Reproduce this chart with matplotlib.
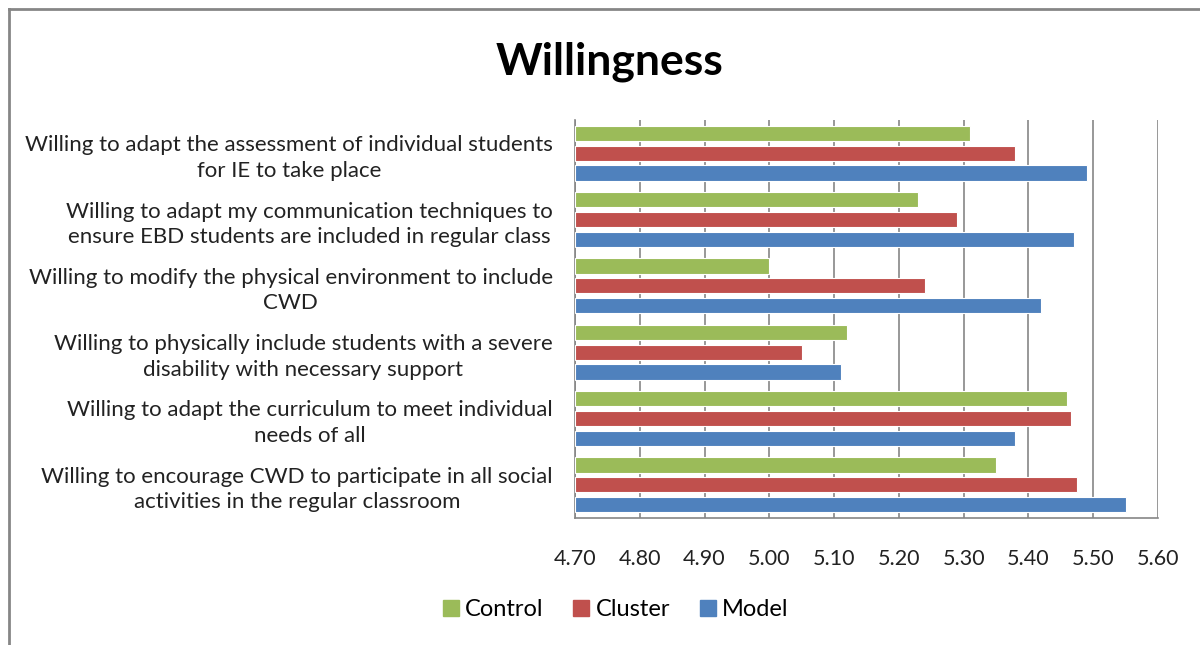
import matplotlib.pyplot as plt
import numpy as np
from matplotlib.lines import Line2D

plt.rcParams['font.family'] = ['Lato', 'DejaVu Sans']

categories = [
    'Willing to adapt the assessment of individual students\nfor IE to take place',
    'Willing to adapt my communication techniques to\nensure EBD students are included in regular class',
    'Willing to modify the physical environment to include\nCWD',
    'Willing to physically include students with a severe\ndisability with necessary support',
    'Willing to adapt the curriculum to meet individual\nneeds of all',
    'Willing to encourage CWD to participate in all social\nactivities in the regular classroom',
]
control = [5.31, 5.23, 5.00, 5.12, 5.46, 5.35]
cluster = [5.38, 5.29, 5.24, 5.05, 5.465, 5.475]
model = [5.49, 5.47, 5.42, 5.11, 5.38, 5.55]
x_ticks = [4.70, 4.80, 4.90, 5.00, 5.10, 5.20, 5.30, 5.40, 5.50, 5.60]

green = '#9BBB59'
red = '#C0504D'
blue = '#4F81BD'
grid_col = '#868686'

fig = plt.figure(figsize=(12, 6.45), dpi=100)
ax = fig.add_axes([575 / 1200, 1 - 518 / 645, (1158 - 575) / 1200, (518 - 120) / 645])

y = np.arange(len(categories))[::-1].astype(float)
h = 0.23
base = 4.70
ax.barh(y + 0.3, np.array(control) - base, left=base, height=h, color=green,
        edgecolor='white', linewidth=0.8, zorder=3, label='Control')
ax.barh(y, np.array(cluster) - base, left=base, height=h, color=red,
        edgecolor='white', linewidth=0.8, zorder=3, label='Cluster')
ax.barh(y - 0.3, np.array(model) - base, left=base, height=h, color=blue,
        edgecolor='white', linewidth=0.8, zorder=3, label='Model')

ax.set_xlim(4.70, 5.60)
ax.set_ylim(-0.5, len(categories) - 0.5)
ax.set_xticks(x_ticks)
ax.set_xticklabels([f'{t:.2f}' for t in x_ticks], fontsize=15.5, color='#222222')
ax.set_yticks(y)
ax.set_yticklabels(categories, fontsize=16, color='#222222', multialignment='center',
                   linespacing=1.35)
ax.tick_params(axis='x', length=0, pad=22)
ax.tick_params(axis='y', length=0, pad=16)
ax.grid(axis='x', color=grid_col, linewidth=1.2, zorder=0)

for s in ['top', 'right']:
    ax.spines[s].set_visible(False)
for s in ['left', 'bottom']:
    ax.spines[s].set_color(grid_col)
    ax.spines[s].set_linewidth(1.2)

fig.text(610 / 1200, 1 - 62 / 645, 'Willingness', fontsize=32, fontweight='bold',
         ha='center', va='center', color='black')

handles = [Line2D([], [], marker='s', linestyle='', markersize=11, color=c)
           for c in [green, red, blue]]
fig.legend(handles, ['Control', 'Cluster', 'Model'], loc='center',
           bbox_to_anchor=(615 / 1200, 1 - 610 / 645), ncol=3, frameon=False,
           fontsize=17, handletextpad=0.2, columnspacing=1.2, handlelength=0.8)

# outer chart frame (left and top edges visible)
fig.add_artist(Line2D([8.5 / 1200, 8.5 / 1200], [0, 1 - 9 / 645], color=grid_col,
                      linewidth=2, transform=fig.transFigure))
fig.add_artist(Line2D([8.5 / 1200, 1], [1 - 9 / 645, 1 - 9 / 645], color=grid_col,
                      linewidth=2, transform=fig.transFigure))

fig.savefig('out.png', dpi=100)
